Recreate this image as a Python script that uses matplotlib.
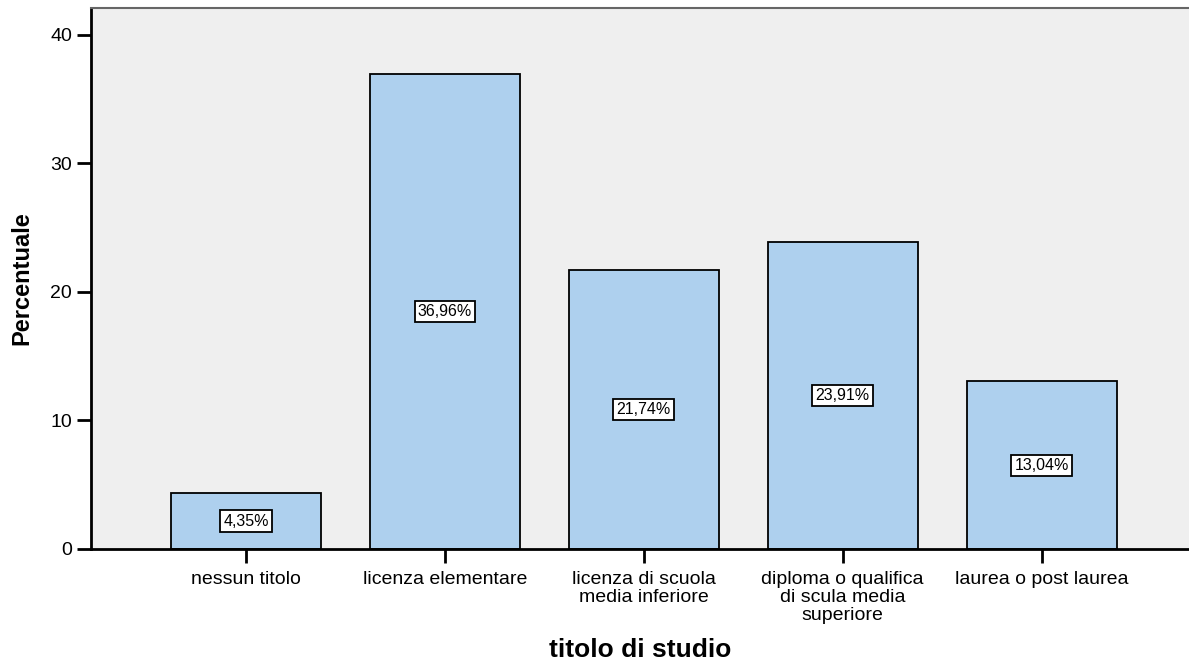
import matplotlib
matplotlib.use('Agg')
from matplotlib import pyplot as plt
import numpy as np

plt.rcParams['font.family'] = ['Liberation Sans', 'DejaVu Sans']

categorie = ['nessun titolo', 'licenza elementare', 'licenza di scuola\nmedia inferiore',
             'diploma o qualifica\ndi scula media\nsuperiore', 'laurea o post laurea']
percentuali = [4.35, 36.96, 21.74, 23.91, 13.04]
etichette = ['4,35%', '36,96%', '21,74%', '23,91%', '13,04%']

fig = plt.figure(figsize=(11.89, 6.62), dpi=100)
ax = fig.add_axes([0.0765, 0.1707, 0.9235, 0.8173])
ax.set_facecolor('#efefef')

x = np.arange(len(categorie))
ax.bar(x, percentuali, width=0.754, color='#aed0ee', edgecolor='black', linewidth=1.3, zorder=2)

# etichette percentuali al centro delle barre
for xi, v, t in zip(x, percentuali, etichette):
    ax.text(xi, v / 2, t, ha='center', va='center', fontsize=11.5, zorder=3,
            bbox=dict(boxstyle='square,pad=0.2', facecolor='white', edgecolor='black', linewidth=1.3))

ax.set_xlim(-0.779, 4.741)
ax.set_ylim(0, 42.1)
ax.set_yticks([0, 10, 20, 30, 40])
ax.set_xticks(x)
ax.set_xticklabels(categorie, fontsize=14, linespacing=1.08, va='top')
ax.tick_params(axis='y', labelsize=14, length=10, width=2, direction='out')
ax.tick_params(axis='x', length=10, width=2, direction='out', pad=6)

ax.spines['right'].set_visible(False)
ax.spines['top'].set_color('#666666')
ax.spines['top'].set_linewidth(1.5)
ax.spines['left'].set_linewidth(2)
ax.spines['bottom'].set_linewidth(2)

ax.set_ylabel('Percentuale', fontsize=17, fontweight='bold', labelpad=12)
ax.set_xlabel('titolo di studio', fontsize=19, fontweight='bold', labelpad=10)

plt.savefig('out.png', dpi=100)
